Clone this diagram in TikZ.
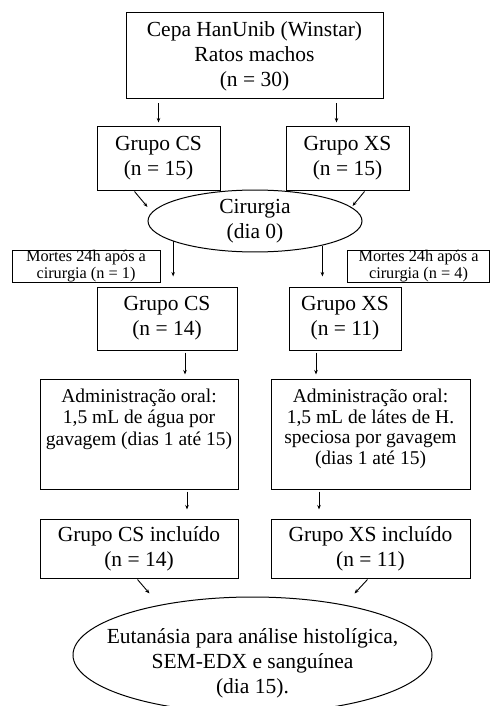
\documentclass[tikz,border=0pt]{standalone}
\usepackage{fontspec}
\setmainfont{Liberation Serif}
\usetikzlibrary{shapes.geometric,arrows.meta,calc}
\tikzset{
  box/.style={draw, line width=1pt, rectangle, inner sep=0pt, align=center, font=\fontsize{21.5}{25}\selectfont},
  smallbox/.style={draw, line width=1pt, rectangle, inner sep=0pt, align=center, font=\fontsize{16.3}{17}\selectfont},
  oval/.style={draw, line width=1pt, ellipse, inner sep=0pt, align=center, font=\fontsize{21.5}{25}\selectfont},
  txt/.style={inner sep=0pt, align=center},
  arr/.style={line width=0.9pt, -{Stealth[length=4.5pt,width=3.5pt]}}
}
\begin{document}
\begin{tikzpicture}[x=1pt,y=-1pt]
\useasboundingbox (0,0) rectangle (490,706);
% nodes
\node[box, minimum width=257, minimum height=86] (top) at (254.5,56)
  {Cepa HanUnib (Winstar)\\Ratos machos\\(n = 30)};
\node[box, minimum width=123, minimum height=64] (cs15) at (158.5,158)
  {Grupo CS\\(n = 15)};
\node[box, minimum width=123, minimum height=64] (xs15) at (347.5,158)
  {Grupo XS\\(n = 15)};
\node[oval, minimum width=214, minimum height=50] (cir) at (255,221)
  {Cirurgia\\(dia 0)};
\node[smallbox, minimum width=148, minimum height=32] (mortL) at (86,266)
  {Mortes 24h após a\\cirurgia (n = 1)};
\node[smallbox, minimum width=142, minimum height=32] (mortR) at (418.5,266)
  {Mortes 24h após a\\cirurgia (n = 4)};
\node[box, minimum width=140, minimum height=63] (cs14) at (167,318.5)
  {Grupo CS\\(n = 14)};
\node[box, minimum width=112, minimum height=63] (xs11) at (345,318.5)
  {Grupo XS\\(n = 11)};
\node[box, minimum width=198, minimum height=110] (adminL) at (139,434) {};
\node[txt, anchor=north, font=\fontsize{19.5}{21.5}\selectfont] (adminLt) at (139,388.5)
  {Administração oral:\\1,5 mL de água por\\gavagem (dias 1 até 15)};
\node[box, minimum width=199, minimum height=110] (adminR) at (370.5,434) {};
\node[txt, anchor=north, font=\fontsize{19.5}{20.5}\selectfont] (adminRt) at (370.5,389)
  {Administração oral:\\1,5 mL de látes de H.\\speciosa por gavagem\\(dias 1 até 15)};
\node[box, minimum width=198, minimum height=59] (csinc) at (139,548.5)
  {Grupo CS incluído\\(n = 14)};
\node[box, minimum width=199, minimum height=59] (xsinc) at (370.5,548.5)
  {Grupo XS incluído\\(n = 11)};
\node[oval, minimum width=359, minimum height=116] (eut) at (252.5,655) {};
\node[txt, font=\fontsize{21.5}{25}\selectfont] (eutt) at (252.5,663.5)
  {Eutanásia para análise histolígica,\\SEM-EDX e sanguínea\\(dia 15).};
% connector coordinates
\coordinate (a1) at ($(top.south -| cs15.north)+(0,4)$);
\coordinate (a2) at ($(top.south -| xs15.north)+(-11,4)$);
\coordinate (a3s) at ($(cs15.south west)+(38,1)$);
\coordinate (a3e) at ($(cir.west)+(0,-14)$);
\coordinate (a4s) at ($(xs15.south east)+(-45,1)$);
\coordinate (a4e) at ($(cir.east)+(-10,-15)$);
\coordinate (a7) at ($(cs14.south)+(18,2)$);
\coordinate (a8) at ($(xs11.south)+(-29,2)$);
\coordinate (a9) at ($(adminL.south)+(48,2)$);
\coordinate (a10) at ($(adminR.south)+(-51.5,2)$);
\coordinate (a11s) at ($(csinc.south west)+(98,1)$);
\coordinate (a11e) at ($(a11s)+(12,14)$);
\coordinate (a12s) at ($(xsinc.south east)+(-103,1)$);
\coordinate (a12e) at ($(a12s)+(-13,14)$);
% connectors
\draw[arr, shorten >=3pt] (a1) -- (a1 |- cs15.north);
\draw[arr, shorten >=3pt] (a2) -- (a2 |- xs15.north);
\draw[arr] (a3s) -- (a3e);
\draw[arr] (a4s) -- (a4e);
\draw[arr, shorten >=10pt] (cir.194) -- (cir.194 |- cs14.north);
\draw[arr, shorten >=10pt] (cir.340) -- (cir.340 |- xs11.north);
\draw[arr, shorten >=4pt] (a7) -- (a7 |- adminL.north);
\draw[arr, shorten >=4pt] (a8) -- (a8 |- adminR.north);
\draw[arr, shorten >=9pt] (a9) -- (a9 |- csinc.north);
\draw[arr, shorten >=9pt] (a10) -- (a10 |- xsinc.north);
\draw[arr] (a11s) -- (a11e);
\draw[arr] (a12s) -- (a12e);
\end{tikzpicture}
\end{document}
